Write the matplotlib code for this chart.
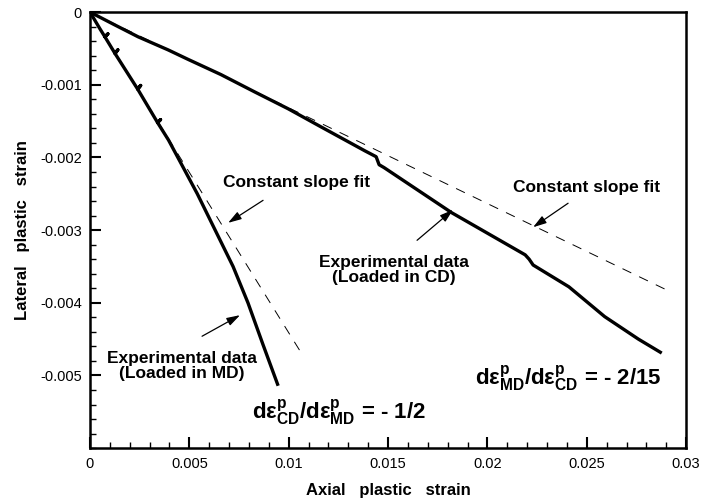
import numpy as np
import matplotlib.pyplot as plt

plt.rcParams['font.family'] = ['Liberation Sans', 'DejaVu Sans']
plt.rcParams['mathtext.fontset'] = 'custom'
plt.rcParams['mathtext.rm'] = 'Liberation Sans:bold'
plt.rcParams['mathtext.it'] = 'Liberation Sans:bold'
plt.rcParams['mathtext.bf'] = 'Liberation Sans:bold'

# essai charge dans le sens MD (petites pointes de bruit sur le debut)
md_axial = [0, 0.0005, 0.00075, 0.0009, 0.00075, 0.00126, 0.0014, 0.00126, 0.0024,
            0.00255, 0.0024, 0.0034, 0.00355, 0.0034, 0.00395, 0.0045, 0.0054, 0.0063,
            0.0072, 0.00795, 0.0087, 0.00944]
md_lateral = [0, -0.00023, -0.00034, -0.0003, -0.00034, -0.00057, -0.00052, -0.00057,
              -0.00106, -0.00101, -0.00106, -0.00152, -0.00148, -0.00152, -0.00176,
              -0.00204, -0.0025, -0.003, -0.0035, -0.004, -0.00457, -0.00512]

# essai charge dans le sens CD
cd_axial = [0, 0.0012, 0.00242, 0.00393, 0.00493, 0.00659, 0.0083, 0.00997, 0.01163,
            0.01384, 0.0144, 0.01455, 0.0148, 0.0165, 0.0182, 0.0219, 0.0221, 0.0223,
            0.0241, 0.0259, 0.0276, 0.0287]
cd_lateral = [0, -0.00017, -0.00034, -0.00052, -0.00065, -0.00086, -0.0011, -0.00133,
              -0.00158, -0.00191, -0.00199, -0.0021, -0.00214, -0.00245, -0.00276,
              -0.00334, -0.0034, -0.00348, -0.00378, -0.00419, -0.0045, -0.00468]

# droites de pente constante
fit_md_x = [0, 0.0107]
fit_md_y = [0, -0.00472]
fit_cd_x = [0, 0.0293]
fit_cd_y = [0, -0.00386]

xticks = [0, 0.005, 0.01, 0.015, 0.02, 0.025, 0.03]
xlabels = ['0', '0.005', '0.01', '0.015', '0.02', '0.025', '0.03']
yticks = [0, -0.001, -0.002, -0.003, -0.004, -0.005]
ylabels = ['0', '-0.001', '-0.002', '-0.003', '-0.004', '-0.005']

fig = plt.figure(figsize=(7.03, 5.03), dpi=100)
ax = fig.add_axes([0.128, 0.109, 0.848, 0.867])

ax.plot(fit_md_x, fit_md_y, color='black', lw=0.7, linestyle=(0, (10, 9)))
ax.plot(fit_cd_x, fit_cd_y, color='black', lw=0.7, linestyle=(0, (10, 9)))
ax.plot(md_axial, md_lateral, color='black', lw=2.4)
ax.plot(cd_axial, cd_lateral, color='black', lw=2.4)

ax.set_xlim(0, 0.03)
ax.set_ylim(-0.006, 0)
ax.set_xticks(xticks)
ax.set_xticklabels(xlabels)
ax.set_yticks(yticks)
ax.set_yticklabels(ylabels)
ax.set_xticks(np.arange(0, 0.0301, 0.001), minor=True)
ax.set_yticks(np.arange(-0.006, 0.00001, 0.0002), minor=True)
ax.tick_params(which='major', direction='in', length=8, width=1.5, labelsize=10.5,
               top=False, right=False, pad=6)
ax.tick_params(which='minor', direction='in', length=4, width=1, top=False, right=False)
for s in ax.spines.values():
    s.set_linewidth(1.8)

ax.set_xlabel('Axial   plastic   strain', fontsize=12, fontweight='bold', labelpad=9)
ax.set_ylabel('Lateral   plastic   strain', fontsize=12, fontweight='bold', labelpad=7)

arrow = dict(arrowstyle='-|>,head_length=0.8,head_width=0.25', color='black', lw=0.9,
             shrinkA=0, shrinkB=0)
txt = dict(fontsize=12.5, fontweight='bold', ha='center', va='center', linespacing=1.0)

ax.annotate('', xy=(0.00695, -0.0029), xytext=(0.00871, -0.00259), arrowprops=arrow)
ax.text(0.0104, -0.00235, 'Constant slope fit', **txt)

ax.annotate('', xy=(0.0223, -0.00296), xytext=(0.02406, -0.00263), arrowprops=arrow)
ax.text(0.0250, -0.00241, 'Constant slope fit', **txt)

ax.annotate('', xy=(0.01827, -0.00272), xytext=(0.01646, -0.00314), arrowprops=arrow)
ax.text(0.0153, -0.00355, 'Experimental data\n(Loaded in CD)', **txt)

ax.annotate('', xy=(0.00755, -0.00417), xytext=(0.00564, -0.00446), arrowprops=arrow)
ax.text(0.00463, -0.00487, 'Experimental data\n(Loaded in MD)', **txt)

ax.text(0.00815, -0.0056, r'$\mathrm{d\epsilon^{p}_{CD}/d\epsilon^{p}_{MD}}$ = - 1/2',
        fontsize=16, fontweight='bold', ha='left', va='baseline')
ax.text(0.01938, -0.00513, r'$\mathrm{d\epsilon^{p}_{MD}/d\epsilon^{p}_{CD}}$ = - 2/15',
        fontsize=16, fontweight='bold', ha='left', va='baseline')

fig.savefig('out.png', dpi=100)
